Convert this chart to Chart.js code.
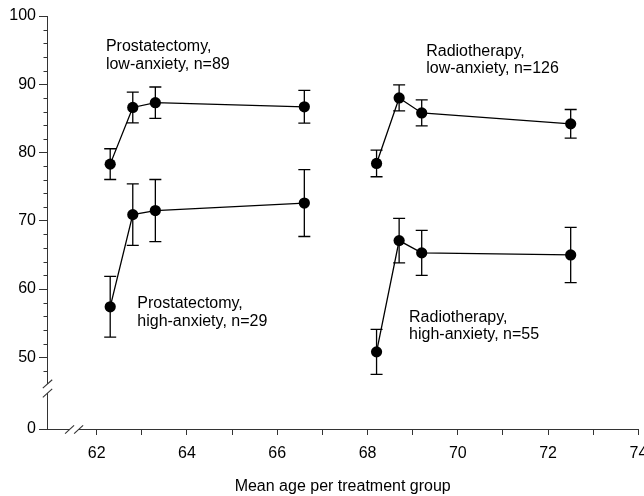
<!DOCTYPE html>
<html><head><meta charset="utf-8">
<script src="https://cdn.jsdelivr.net/npm/chart.js@4/dist/chart.umd.min.js"></script>
<style>html,body{margin:0;padding:0;background:#fff;overflow:hidden}canvas{display:block}</style>
</head><body>
<canvas id="c" width="644" height="496"></canvas>
<script>
// ---- data ----
const prostAge = [62.3, 62.8, 63.3, 66.6];
const radioAge = [68.2, 68.7, 69.2, 72.5];
const prostLow = [78.3, 86.6, 87.3, 86.7];
const prostLowErr = [2.25, 2.25, 2.3, 2.4];
const prostHigh = [57.4, 70.9, 71.5, 72.6];
const prostHighErr = [4.45, 4.5, 4.55, 4.9];
const radioLow = [78.4, 88.0, 85.8, 84.2];
const radioLowErr = [1.95, 1.9, 1.9, 2.1];
const radioHigh = [50.8, 67.1, 65.3, 65.0];
const radioHighErr = [3.3, 3.25, 3.3, 4.05];

const xTickValues = [62, 63, 64, 65, 66, 67, 68, 69, 70, 71, 72, 73, 74];
const xTickLabels = ["62", "", "64", "", "66", "", "68", "", "70", "", "72", "", "74"];
const yTickValues = [50, 60, 70, 80, 90, 100];
const yTickLabels = ["50", "60", "70", "80", "90", "100"];
const yBreakLabel = "0";
const yMinorTicks = [48, 52, 54, 56, 58, 62, 64, 66, 68, 72, 74, 76, 78, 82, 84, 86, 88, 92, 94, 96, 98];
const xAxisTitle = "Mean age per treatment group";

const groupLabels = [
  ["Prostatectomy,", "low-anxiety, n=89"],
  ["Radiotherapy,", "low-anxiety, n=126"],
  ["Prostatectomy,", "high-anxiety, n=29"],
  ["Radiotherapy,", "high-anxiety, n=55"]
];
const groupLabelX = [62.205, 69.30, 62.90, 68.92];
const groupLabelY = [94.87, 94.18, 57.18, 55.21];

// axis layout (in data units)
const X_MIN = 60.9, X_MAX = 74;
const Y_MIN = 39.5, Y_MAX = 100;
const Y_BREAKS = [46.1, 44.75];
const X_BREAKS = [61.4, 61.6];

const FONT = "'Liberation Sans', Arial, sans-serif";
Chart.defaults.font.family = FONT;
Chart.defaults.font.size = 16;
Chart.defaults.color = '#000';

function pts(xs, ys) { return xs.map((x, i) => ({ x: x, y: ys[i] })); }
function ds(xs, ys, err) {
  return {
    data: pts(xs, ys), errorBars: err, showLine: true,
    borderColor: '#000', borderWidth: 1.3,
    pointRadius: 5.6, pointHoverRadius: 5.6,
    pointBackgroundColor: '#000', pointBorderColor: '#000', pointBorderWidth: 0
  };
}

const overlay = {
  id: 'overlay',
  beforeDatasetsDraw(chart) {
    const { ctx } = chart; const x = chart.scales.x, y = chart.scales.y;
    ctx.save(); ctx.strokeStyle = '#000'; ctx.lineWidth = 1.3;
    chart.data.datasets.forEach(d => {
      d.data.forEach((p, i) => {
        const e = d.errorBars[i];
        const px = x.getPixelForValue(p.x);
        const t = y.getPixelForValue(p.y + e), b = y.getPixelForValue(p.y - e);
        ctx.beginPath();
        ctx.moveTo(px, t); ctx.lineTo(px, b);
        ctx.moveTo(px - 6, t); ctx.lineTo(px + 6, t);
        ctx.moveTo(px - 6, b); ctx.lineTo(px + 6, b);
        ctx.stroke();
      });
    });
    ctx.restore();
  },
  afterDraw(chart) {
    const { ctx, chartArea } = chart; const x = chart.scales.x, y = chart.scales.y;
    ctx.save();
    // minor y ticks
    ctx.strokeStyle = '#333'; ctx.lineWidth = 1;
    const ax = Math.round(chartArea.left) + 0.5;
    yMinorTicks.forEach(v => {
      const py = Math.round(y.getPixelForValue(v)) + 0.5;
      ctx.beginPath(); ctx.moveTo(ax - 4, py); ctx.lineTo(ax, py); ctx.stroke();
    });
    // y axis break
    const yb = Y_BREAKS.map(v => y.getPixelForValue(v));
    ctx.fillStyle = '#fff';
    ctx.fillRect(ax - 2, yb[0], 4, yb[1] - yb[0]);
    ctx.strokeStyle = '#333'; ctx.lineWidth = 1.1;
    yb.forEach(c => { ctx.beginPath(); ctx.moveTo(ax - 4.7, c + 4.2); ctx.lineTo(ax + 4.7, c - 4.2); ctx.stroke(); });
    // x axis break
    const ay = Math.round(chartArea.bottom) + 0.5;
    const xb = X_BREAKS.map(v => x.getPixelForValue(v));
    ctx.fillRect(xb[0], ay - 2, xb[1] - xb[0], 4);
    xb.forEach(c => { ctx.beginPath(); ctx.moveTo(c - 4.5, ay + 4.2); ctx.lineTo(c + 4.5, ay - 4.2); ctx.stroke(); });
    // group labels
    ctx.fillStyle = '#000'; ctx.font = '16px ' + FONT; ctx.textAlign = 'left'; ctx.textBaseline = 'alphabetic';
    groupLabels.forEach((lines, i) => {
      const px = x.getPixelForValue(groupLabelX[i]), py = y.getPixelForValue(groupLabelY[i]);
      lines.forEach((s, j) => ctx.fillText(s, px, py + j * 17.5));
    });
    ctx.restore();
  }
};

new Chart(document.getElementById('c'), {
  type: 'scatter',
  data: {
    datasets: [
      ds(prostAge, prostLow, prostLowErr),
      ds(prostAge, prostHigh, prostHighErr),
      ds(radioAge, radioLow, radioLowErr),
      ds(radioAge, radioHigh, radioHighErr)
    ]
  },
  options: {
    responsive: false, animation: false, devicePixelRatio: 1,
    layout: { padding: { top: 16, right: 5, bottom: 0, left: 0 } },
    plugins: { legend: { display: false }, tooltip: { enabled: false } },
    scales: {
      x: {
        type: 'linear', min: X_MIN, max: X_MAX,
        afterBuildTicks: s => { s.ticks = xTickValues.map(v => ({ value: v })); },
        afterFit: s => { s.height = 67; s.paddingLeft = 0; s.paddingRight = 0; },
        ticks: {
          autoSkip: false, maxRotation: 0, padding: 9, color: '#000',
          font: { size: 16 },
          callback: (v, i) => xTickLabels[i]
        },
        grid: { display: true, drawOnChartArea: false, drawTicks: true, tickLength: 6, color: '#333', lineWidth: 1 },
        border: { display: true, color: '#333', width: 1 },
        title: { display: true, text: xAxisTitle, color: '#000', font: { size: 16 }, padding: { top: 0, bottom: 0 } }
      },
      y: {
        type: 'linear', min: Y_MIN, max: Y_MAX,
        afterBuildTicks: s => { s.ticks = [{ value: Y_MIN }].concat(yTickValues.map(v => ({ value: v }))); },
        afterFit: s => { s.width = 47; s.paddingTop = 0; s.paddingBottom = 0; },
        ticks: {
          autoSkip: false, padding: 3, color: '#000', font: { size: 16 },
          callback: (v, i) => i === 0 ? yBreakLabel : yTickLabels[i - 1]
        },
        grid: { display: true, drawOnChartArea: false, drawTicks: true, tickLength: 8, color: '#333', lineWidth: 1 },
        border: { display: true, color: '#333', width: 1 }
      }
    }
  },
  plugins: [overlay]
});
</script>
</body></html>
